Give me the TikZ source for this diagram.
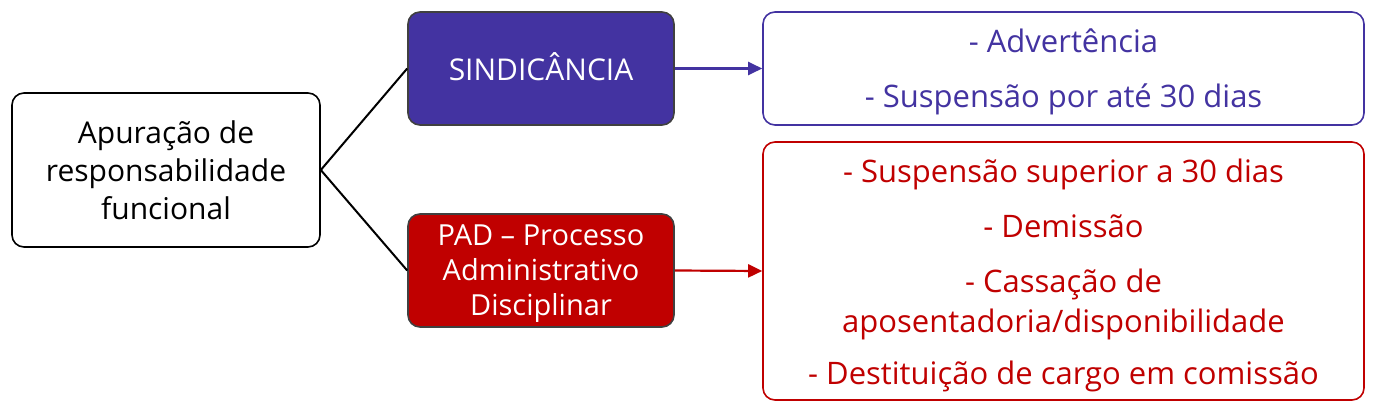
\documentclass[tikz,border=0pt]{standalone}
\usepackage{fontspec}
\setmainfont{Open Sans}
\usetikzlibrary{arrows.meta}
\definecolor{sindblue}{HTML}{4333A1}
\definecolor{padred}{HTML}{C00000}
\begin{document}
\begin{tikzpicture}[x=1pt,y=-1pt,
  box/.style={draw, rounded corners=12pt, line width=1.6pt, inner sep=0pt},
  darkbox/.style={box, draw=black!75},
  txt/.style={align=center, inner sep=0pt},
  conn/.style={line width=2pt},
  arr/.style={line width=2.2pt, -{Triangle[length=14pt,width=13pt]}}]
\useasboundingbox (0,0) rectangle (1375,415);
% boxes
\node[box, draw=black, minimum width=308pt, minimum height=154pt] (root) at (166,170) {};
\node[darkbox, fill=sindblue, minimum width=266pt, minimum height=113pt] (sind) at (541,68.5) {};
\node[darkbox, fill=padred, minimum width=266pt, minimum height=113pt] (pad) at (541,270.5) {};
\node[box, draw=sindblue, fill=white, minimum width=601pt, minimum height=113pt] (sindres) at (1063.5,68.5) {};
\node[box, draw=padred, fill=white, minimum width=601pt, minimum height=258pt] (padres) at (1063.5,271) {};
% texts
\node[txt, font=\fontsize{30}{38}\selectfont] (roottext) at (166,170)
  {Apuração de\\responsabilidade\\funcional};
\node[txt, text=white, font=\fontsize{30}{35}\selectfont] (sindtext) at (541,66.5) {SINDICÂNCIA};
\node[txt, text=white, font=\fontsize{29}{35}\selectfont] (padtext) at (541,273.5)
  {PAD – Processo\\Administrativo\\Disciplinar};
\node[txt, text=sindblue, font=\fontsize{31}{40}\selectfont] (sindrestext) at (1063.5,72)
  {- Advertência\\[15pt]- Suspensão por até 30 dias};
\node[txt, text=padred, font=\fontsize{31}{40}\selectfont] (padrestext) at (1063.5,275)
  {- Suspensão superior a 30 dias\\[15pt]- Demissão\\[15pt]- Cassação de\\aposentadoria/disponibilidade\\[12pt]- Destituição de cargo em comissão};
% connectors
\draw[conn] (root.east) -- (sind.west);
\draw[conn] (root.east) -- (pad.west);
\draw[arr, sindblue] (sind.east) -- (sindres.west);
\draw[arr, padred] (pad.east) -- (padres.west);
\end{tikzpicture}
\end{document}
